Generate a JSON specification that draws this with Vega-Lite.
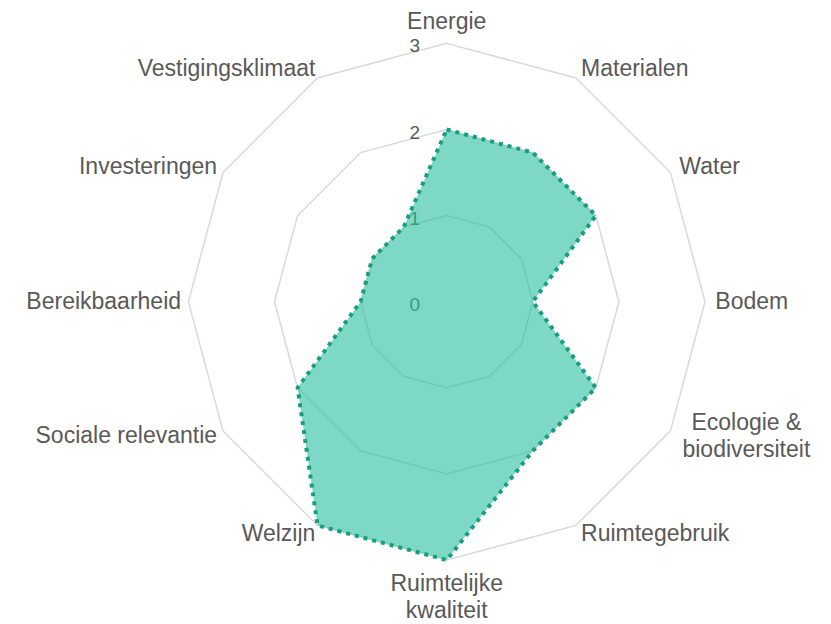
{
  "$schema": "https://vega.github.io/schema/vega-lite/v6.json",
  "width": 831,
  "height": 624,
  "autosize": "none",
  "padding": 0,
  "background": "white",
  "view": {"stroke": null},
  "config": {"font": "Liberation Sans"},
  "datasets": {
    "axes": [
      {"axis": "Energie", "i": 0, "value": 2},
      {"axis": "Materialen", "i": 1, "value": 2},
      {"axis": "Water", "i": 2, "value": 2},
      {"axis": "Bodem", "i": 3, "value": 1},
      {"axis": "Ecologie &\nbiodiversiteit", "i": 4, "value": 2},
      {"axis": "Ruimtegebruik", "i": 5, "value": 2},
      {"axis": "Ruimtelijke\nkwaliteit", "i": 6, "value": 3},
      {"axis": "Welzijn", "i": 7, "value": 3},
      {"axis": "Sociale relevantie", "i": 8, "value": 2},
      {"axis": "Bereikbaarheid", "i": 9, "value": 1},
      {"axis": "Investeringen", "i": 10, "value": 1},
      {"axis": "Vestigingsklimaat", "i": 11, "value": 1}
    ],
    "grid": [
      {"i": 0, "value": 1}, {"i": 1, "value": 1}, {"i": 2, "value": 1}, {"i": 3, "value": 1},
      {"i": 4, "value": 1}, {"i": 5, "value": 1}, {"i": 6, "value": 1}, {"i": 7, "value": 1},
      {"i": 8, "value": 1}, {"i": 9, "value": 1}, {"i": 10, "value": 1}, {"i": 11, "value": 1},
      {"i": 0, "value": 2}, {"i": 1, "value": 2}, {"i": 2, "value": 2}, {"i": 3, "value": 2},
      {"i": 4, "value": 2}, {"i": 5, "value": 2}, {"i": 6, "value": 2}, {"i": 7, "value": 2},
      {"i": 8, "value": 2}, {"i": 9, "value": 2}, {"i": 10, "value": 2}, {"i": 11, "value": 2},
      {"i": 0, "value": 3}, {"i": 1, "value": 3}, {"i": 2, "value": 3}, {"i": 3, "value": 3},
      {"i": 4, "value": 3}, {"i": 5, "value": 3}, {"i": 6, "value": 3}, {"i": 7, "value": 3},
      {"i": 8, "value": 3}, {"i": 9, "value": 3}, {"i": 10, "value": 3}, {"i": 11, "value": 3}
    ],
    "ticks": [{"level": 0}, {"level": 1}, {"level": 2}, {"level": 3}]
  },
  "encoding": {
    "x": {"field": "x", "type": "quantitative", "axis": null, "scale": {"domain": [-5.188, 4.463], "nice": false, "zero": false}},
    "y": {"field": "y", "type": "quantitative", "axis": null, "scale": {"domain": [-3.743, 3.504], "nice": false, "zero": false}}
  },
  "layer": [
    {
      "data": {"name": "grid"},
      "transform": [
        {"calculate": "datum.value * sin(datum.i * PI / 6)", "as": "x"},
        {"calculate": "datum.value * cos(datum.i * PI / 6)", "as": "y"}
      ],
      "mark": {"type": "line", "interpolate": "linear-closed", "stroke": "#d9d9d9", "strokeWidth": 1.5},
      "encoding": {
        "detail": {"field": "value", "type": "nominal"},
        "order": {"field": "i", "type": "quantitative"}
      }
    },
    {
      "data": {"name": "ticks"},
      "transform": [
        {"calculate": "0", "as": "x"},
        {"calculate": "datum.level", "as": "y"}
      ],
      "mark": {"type": "text", "align": "center", "baseline": "middle", "dx": -32, "dy": 3, "fontSize": 19, "fill": "#595959"},
      "encoding": {"text": {"field": "level", "type": "quantitative"}}
    },
    {
      "data": {"name": "axes"},
      "transform": [
        {"calculate": "datum.value * sin(datum.i * PI / 6)", "as": "x"},
        {"calculate": "datum.value * cos(datum.i * PI / 6)", "as": "y"}
      ],
      "mark": {"type": "line", "interpolate": "linear-closed", "fill": "#26bfa0", "fillOpacity": 0.6, "stroke": "#179e7e", "strokeWidth": 4, "strokeDash": [4, 5]},
      "encoding": {"order": {"field": "i", "type": "quantitative"}}
    },
    {
      "data": {"name": "axes"},
      "transform": [
        {"filter": "datum.i >= 1 && datum.i <= 5 && datum.i != 4"},
        {"calculate": "3.12 * sin(datum.i * PI / 6)", "as": "x"},
        {"calculate": "3.12 * cos(datum.i * PI / 6)", "as": "y"}
      ],
      "mark": {"type": "text", "align": "left", "baseline": "middle", "fontSize": 23, "fill": "#595959"},
      "encoding": {"text": {"field": "axis", "type": "nominal"}}
    },
    {
      "data": {"name": "axes"},
      "transform": [
        {"filter": "datum.i == 4"},
        {"calculate": "3.12 * sin(datum.i * PI / 6)", "as": "x"},
        {"calculate": "3.12 * cos(datum.i * PI / 6)", "as": "y"}
      ],
      "mark": {"type": "text", "align": "center", "baseline": "middle", "dx": 67, "dy": -13, "fontSize": 23, "lineHeight": 27, "fill": "#595959", "lineBreak": "\n"},
      "encoding": {"text": {"field": "axis", "type": "nominal"}}
    },
    {
      "data": {"name": "axes"},
      "transform": [
        {"filter": "datum.i == 0"},
        {"calculate": "3.12 * sin(datum.i * PI / 6)", "as": "x"},
        {"calculate": "3.12 * cos(datum.i * PI / 6)", "as": "y"}
      ],
      "mark": {"type": "text", "align": "center", "baseline": "alphabetic", "dy": -4, "fontSize": 23, "fill": "#595959"},
      "encoding": {"text": {"field": "axis", "type": "nominal"}}
    },
    {
      "data": {"name": "axes"},
      "transform": [
        {"filter": "datum.i == 6"},
        {"calculate": "3.12 * sin(datum.i * PI / 6)", "as": "x"},
        {"calculate": "3.12 * cos(datum.i * PI / 6)", "as": "y"}
      ],
      "mark": {"type": "text", "align": "center", "baseline": "top", "dy": 3, "fontSize": 23, "lineHeight": 27, "fill": "#595959", "lineBreak": "\n"},
      "encoding": {"text": {"field": "axis", "type": "nominal"}}
    },
    {
      "data": {"name": "axes"},
      "transform": [
        {"filter": "datum.i >= 7"},
        {"calculate": "3.12 * sin(datum.i * PI / 6)", "as": "x"},
        {"calculate": "3.12 * cos(datum.i * PI / 6)", "as": "y"}
      ],
      "mark": {"type": "text", "align": "right", "baseline": "middle", "dx": 3, "fontSize": 23, "fill": "#595959"},
      "encoding": {"text": {"field": "axis", "type": "nominal"}}
    }
  ]
}
